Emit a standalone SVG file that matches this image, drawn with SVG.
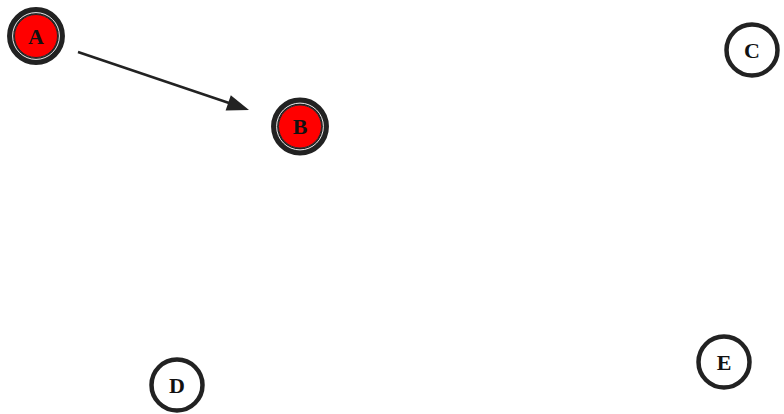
<svg xmlns="http://www.w3.org/2000/svg" width="784" height="414" viewBox="0 0 784 414">
<style>
.ring{fill:#fff;stroke:#222;stroke-width:4.5}
.oring{fill:none;stroke:#222;stroke-width:7.5}
.wline{fill:none;stroke:#fff;stroke-width:0.9}
.red{fill:#ff0000;stroke:#222;stroke-width:1}
.lbl{font-family:"Liberation Serif",serif;font-weight:bold;font-size:22px;fill:#111;text-anchor:middle;dominant-baseline:central}
.edge{stroke:#222;stroke-width:2.5;fill:none}
.head{fill:#222}
</style>
<g id="edges">
<path class="edge" d="M78,52 L232,104"/>
<path class="head" d="M249,110 L225.6,110.4 L230.8,95.2 Z"/>
</g>
<g id="A">
<circle class="oring" cx="36" cy="36" r="25.2"/>
<circle class="red" cx="36" cy="36" r="21.5"/>
<circle class="wline" cx="36" cy="36" r="23.4"/>
<text class="lbl" x="36" y="36">A</text>
</g>
<g id="B">
<circle class="oring" cx="300" cy="126.5" r="25.2"/>
<circle class="red" cx="300" cy="126.5" r="21.5"/>
<circle class="wline" cx="300" cy="126.5" r="23.4"/>
<text class="lbl" x="300" y="126.5">B</text>
</g>
<g id="C">
<circle class="ring" cx="752" cy="50" r="25.5"/>
<text class="lbl" x="752" y="50">C</text>
</g>
<g id="D">
<circle class="ring" cx="177" cy="385" r="25.5"/>
<text class="lbl" x="177" y="385">D</text>
</g>
<g id="E">
<circle class="ring" cx="724" cy="362" r="25.5"/>
<text class="lbl" x="724" y="362">E</text>
</g>
</svg>
